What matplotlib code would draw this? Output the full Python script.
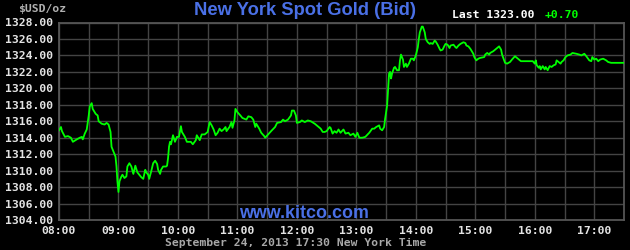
import numpy as np
import pandas as pd
import matplotlib
matplotlib.use("Agg")
import matplotlib.pyplot as plt
import matplotlib.dates as mdates

# minutes after 08:00 and bid price
minutes = [0, 2, 3, 6, 9, 12, 14, 18, 21, 23, 24, 26, 28, 30, 31, 33, 34, 37, 39, 40,
           43, 46, 48, 50, 52, 53, 55, 57, 58, 59, 60, 61, 63, 64, 66, 68, 69, 71, 73, 75,
           77, 79, 81, 83, 85, 87, 88, 90, 91, 93, 95, 97, 99, 100, 102, 103, 105, 108, 109, 110,
           111, 112, 113, 115, 117, 119, 121, 123, 124, 127, 129, 133, 135, 138, 139, 142, 144, 147, 150, 152,
           154, 156, 158, 160, 162, 164, 166, 168, 169, 172, 174, 175, 177, 178, 180, 183, 185, 187, 189, 191,
           194, 196, 198, 199, 202, 204, 207, 208, 211, 214, 218, 220, 224, 226, 228, 231, 234, 235, 237, 239,
           240, 243, 245, 248, 251, 254, 258, 261, 264, 266, 268, 270, 273, 274, 276, 278, 280, 282, 284, 287,
           289, 292, 294, 297, 299, 301, 303, 306, 309, 313, 316, 318, 320, 323, 324, 326, 328, 329, 330, 331,
           332, 333, 334, 335, 336, 338, 339, 341, 343, 344, 345, 347, 348, 350, 351, 353, 355, 357, 358, 360,
           362, 363, 364, 366, 367, 369, 370, 372, 374, 375, 377, 379, 380, 382, 384, 385, 387, 389, 390, 392,
           394, 395, 398, 400, 401, 403, 405, 408, 410, 411, 413, 415, 416, 418, 419, 421, 423, 425, 429, 430,
           432, 434, 435, 438, 440, 442, 444, 446, 447, 450, 452, 455, 457, 460, 462, 464, 466, 469, 473, 476,
           478, 480, 481, 482, 484, 485, 486, 488, 490, 491, 493, 495, 497, 499, 501, 502, 504, 506, 507, 509,
           511, 513, 516, 518, 522, 525, 527, 530, 532, 535, 537, 538, 540, 542, 544, 546, 549, 552, 554, 557,
           562, 570]
prices = [1314.9, 1315.3, 1314.8, 1314.1, 1314.2, 1314.0, 1313.5, 1313.8, 1314.0, 1314.1, 1313.8, 1314.5, 1315.0, 1316.7, 1317.8, 1318.2, 1317.5, 1316.9, 1316.7, 1316.0,
          1315.7, 1315.6, 1315.8, 1315.6, 1314.7, 1312.9, 1312.3, 1311.7, 1310.5, 1308.6, 1307.4, 1308.7, 1309.3, 1309.5, 1309.1, 1309.3, 1310.5, 1310.9, 1310.5, 1309.6,
          1310.6, 1309.8, 1309.5, 1309.2, 1309.0, 1310.1, 1309.8, 1309.5, 1309.0, 1309.9, 1310.9, 1311.2, 1310.8, 1310.1, 1309.6, 1310.1, 1310.5, 1310.5, 1310.6, 1311.5,
          1312.9, 1313.5, 1313.2, 1314.3, 1313.5, 1314.1, 1314.1, 1315.4, 1314.7, 1314.1, 1313.5, 1313.5, 1313.2, 1313.7, 1314.3, 1313.7, 1314.4, 1314.4, 1314.7, 1315.9,
          1315.5, 1315.0, 1314.3, 1314.6, 1315.1, 1314.8, 1315.0, 1315.3, 1314.8, 1315.3, 1315.9, 1315.2, 1316.1, 1317.5, 1317.1, 1316.7, 1316.4, 1316.3, 1316.2, 1316.6,
          1316.5, 1316.2, 1315.3, 1315.7, 1315.1, 1314.6, 1314.2, 1314.0, 1314.4, 1314.8, 1315.3, 1315.8, 1315.9, 1316.2, 1316.0, 1316.2, 1316.7, 1317.3, 1317.3, 1316.7,
          1315.8, 1315.9, 1316.1, 1315.9, 1316.1, 1316.0, 1315.7, 1315.4, 1315.1, 1314.7, 1314.7, 1314.8, 1315.3, 1315.2, 1314.5, 1314.8, 1314.6, 1315.0, 1314.6, 1315.0,
          1314.5, 1314.6, 1314.3, 1314.5, 1314.1, 1314.6, 1314.0, 1314.0, 1314.1, 1314.6, 1315.1, 1315.1, 1315.3, 1315.5, 1315.1, 1314.9, 1315.3, 1316.3, 1317.1, 1317.9,
          1319.8, 1321.8, 1322.0, 1321.2, 1321.8, 1322.5, 1322.6, 1322.2, 1322.2, 1323.4, 1324.1, 1323.5, 1322.6, 1323.0, 1322.6, 1323.0, 1323.6, 1323.6, 1323.4, 1324.0,
          1325.0, 1326.0, 1326.8, 1327.5, 1327.5, 1326.8, 1326.0, 1325.6, 1325.4, 1325.5, 1325.4, 1325.8, 1325.7, 1325.3, 1324.8, 1324.6, 1324.7, 1325.2, 1325.4, 1325.3,
          1324.9, 1325.2, 1325.3, 1325.0, 1324.9, 1325.2, 1325.4, 1325.6, 1325.5, 1325.2, 1325.1, 1324.8, 1324.6, 1324.2, 1323.8, 1323.4, 1323.6, 1323.7, 1323.8, 1324.1,
          1324.3, 1324.1, 1324.3, 1324.5, 1324.7, 1324.9, 1325.1, 1324.7, 1324.1, 1323.1, 1323.0, 1323.2, 1323.5, 1323.9, 1323.7, 1323.5, 1323.3, 1323.3, 1323.3, 1323.3,
          1323.3, 1323.0, 1323.4, 1322.8, 1322.5, 1322.7, 1322.3, 1322.7, 1322.3, 1322.6, 1322.2, 1322.7, 1322.6, 1322.8, 1322.9, 1323.4, 1323.2, 1323.0, 1323.2, 1323.4,
          1323.8, 1324.0, 1324.1, 1324.3, 1324.2, 1324.1, 1324.0, 1324.2, 1323.9, 1323.4, 1323.3, 1323.8, 1323.5, 1323.6, 1323.3, 1323.5, 1323.6, 1323.4, 1323.2, 1323.1,
          1323.1, 1323.1]

y_ticks = np.arange(1304, 1329, 2)
title = "New York Spot Gold (Bid)"
last_txt = "Last 1323.00"
change_txt = "+0.70"
date_txt = "September 24, 2013 17:30 New York Time"

start = pd.Timestamp("2013-09-24 08:00")
times = start + pd.to_timedelta(minutes, unit="m")

W, H = 630, 250
fig = plt.figure(figsize=(6.3, 2.5), dpi=100, facecolor="black")
ax = fig.add_axes([59 / W, 1 - 220 / H, 565 / W, 197.5 / H])
ax.set_facecolor("black")

ax.plot(times, prices, color="#00ff00", lw=1.3, zorder=3)

ax.set_xlim(start, start + pd.Timedelta(minutes=570))
ax.set_ylim(1304, 1328)
ax.set_yticks(y_ticks)
ax.set_yticklabels(["%.2f" % v for v in y_ticks])
ax.xaxis.set_major_locator(mdates.HourLocator())
ax.xaxis.set_major_formatter(mdates.DateFormatter("%H:%M"))
ax.xaxis.set_minor_locator(mdates.MinuteLocator(byminute=[30]))

mono = dict(family="DejaVu Sans Mono", weight="bold", size=8.2)
for lab in ax.get_xticklabels() + ax.get_yticklabels():
    lab.set_fontfamily("DejaVu Sans Mono")
    lab.set_fontweight("bold")
    lab.set_fontsize(8.2)
    lab.set_color("#e4e4e4")
ax.tick_params(axis="both", which="both", length=0)
ax.tick_params(axis="y", pad=4.5)
ax.tick_params(axis="x", pad=4)

ax.grid(True, which="both", color="#444444", lw=1.0, zorder=1)
for s in ["left", "bottom", "right", "top"]:
    ax.spines[s].set_color("#555555")
    ax.spines[s].set_linewidth(1.3)

blue = "#4a70e6"
fig.text(305 / W, 1 - 10.5 / H, title, color=blue, fontsize=13.2, fontweight="bold",
         family="Liberation Sans", ha="center", va="center")
fig.text(452 / W, 1 - 15 / H, last_txt, color="white", ha="left", va="center", **mono)
fig.text(545 / W, 1 - 15 / H, change_txt, color="#00ff00", ha="left", va="center", **mono)
fig.text(18 / W, 1 - 9 / H, "$USD/oz", color="#b0b0b0", ha="left", va="center", **mono)
fig.text(304 / W, 1 - 213 / H, "www.kitco.com", color=blue, fontsize=12.9, fontweight="bold",
         family="Liberation Sans", ha="center", va="center", zorder=5)
fig.text(296 / W, 1 - 243 / H, date_txt, color="#a8a8a8", ha="center", va="center", **mono)

fig.savefig("out.png", dpi=100, facecolor="black")
